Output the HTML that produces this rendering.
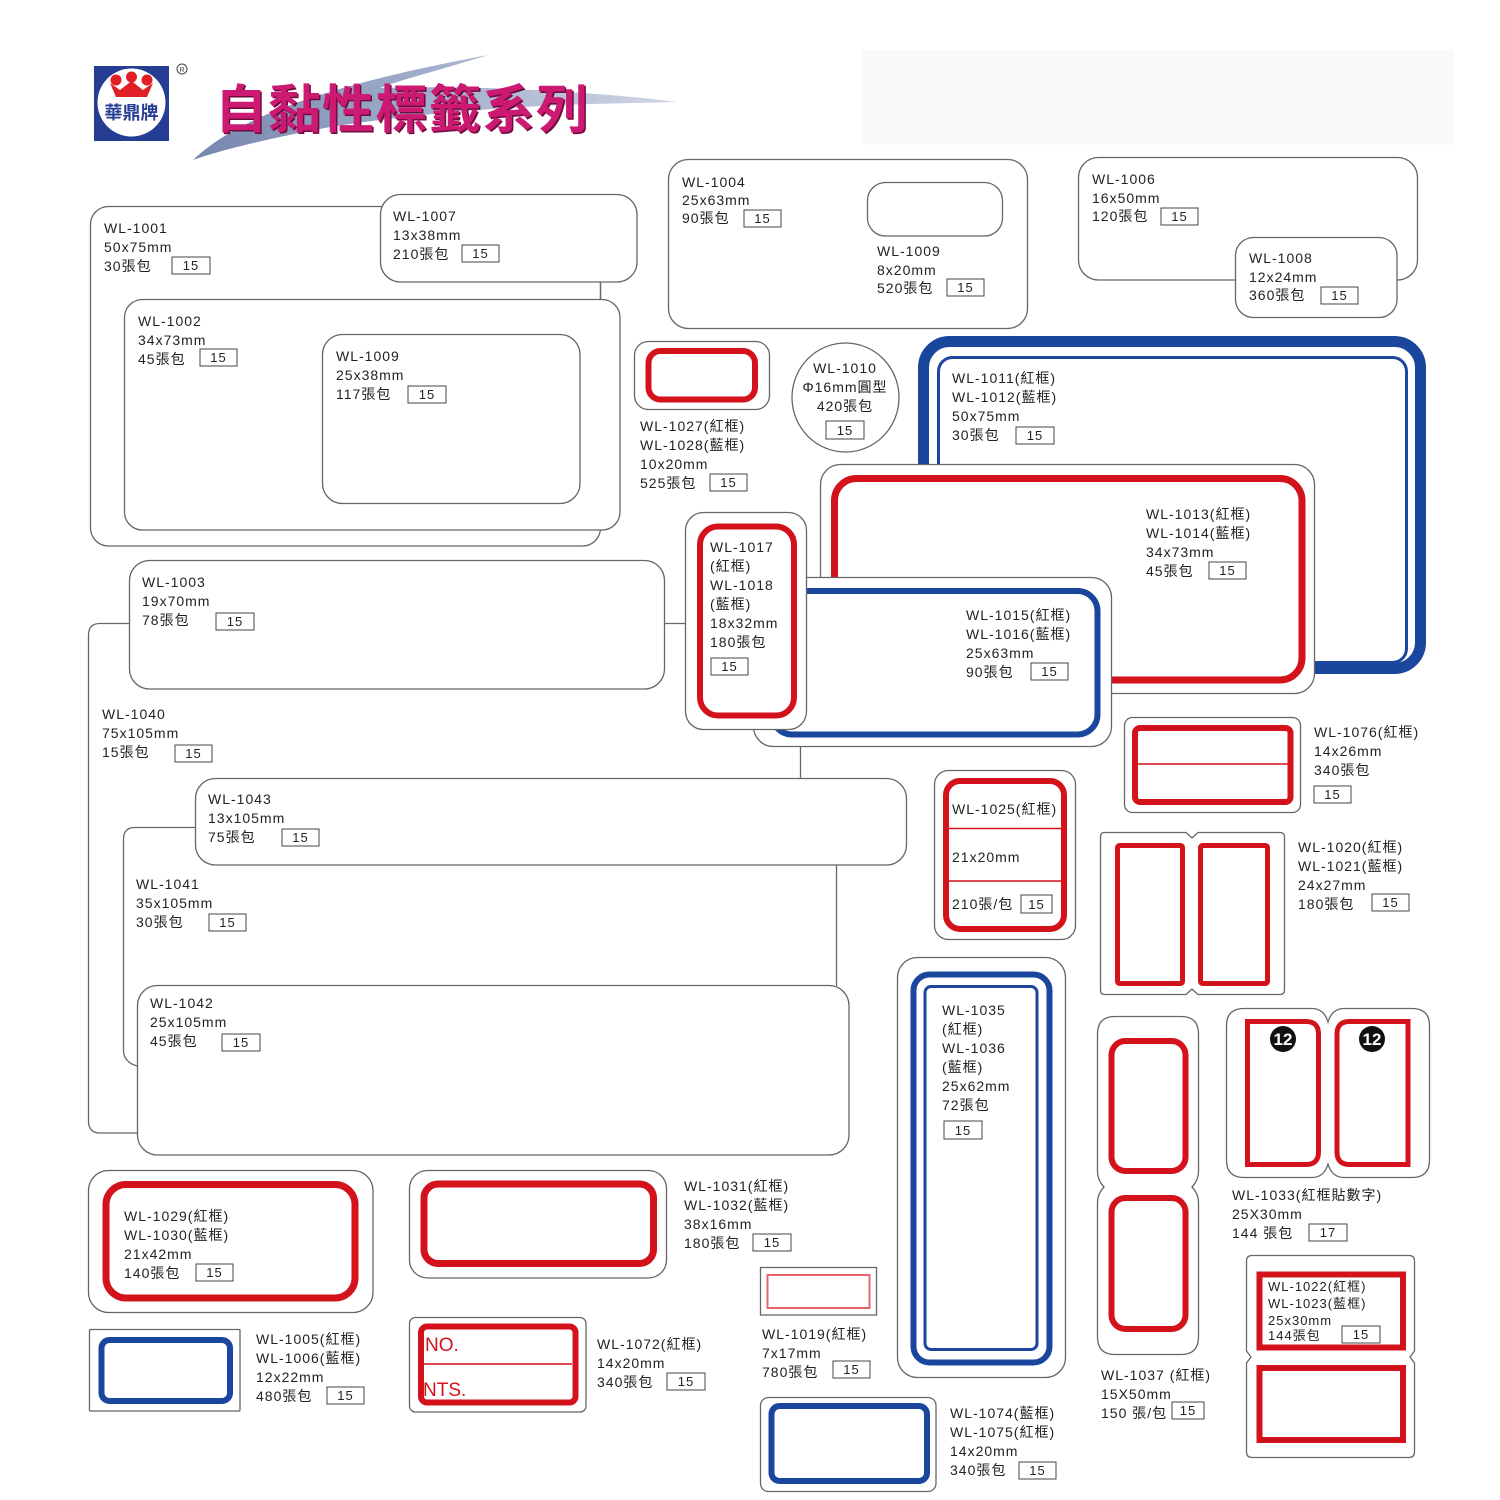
<!DOCTYPE html>
<html>
<head>
<meta charset="utf-8">
<style>
  html,body{margin:0;padding:0;background:#fff;}
  svg{display:block;}
  .g{fill:#fff;stroke:#666;stroke-width:1.3;}
  .gl{fill:none;stroke:#666;stroke-width:1.3;}
  .r{fill:none;stroke:#d3121c;}
  .b{fill:none;stroke:#1b469e;}
  .t{font-family:"Liberation Sans","Noto Sans CJK TC",sans-serif;font-size:14px;fill:#222;letter-spacing:1px;}
  .bx{fill:#fff;stroke:#444;stroke-width:1;}
  .n{font-family:"Liberation Sans",sans-serif;font-size:13px;fill:#222;text-anchor:middle;letter-spacing:1px;}
</style>
</head>
<body>
<svg width="1500" height="1500" viewBox="0 0 1500 1500" xmlns="http://www.w3.org/2000/svg">
  <defs>
    <linearGradient id="sw" x1="0" y1="0" x2="1" y2="0">
      <stop offset="0" stop-color="#7686ad"/>
      <stop offset="0.5" stop-color="#a2afcc"/>
      <stop offset="1" stop-color="#d0d6e6"/>
    </linearGradient>
  </defs>
  <rect width="1500" height="1500" fill="#fff"/>

  <!-- faint top right panel -->
  <rect x="862" y="50" width="592" height="95" fill="#f9fafc"/>

  <!-- swoosh -->
  <path d="M193,160 C230,125 300,90 488,55 C440,70 400,80 380,88 C480,85 600,92 677,102 C600,104 480,104 330,127 C260,140 215,152 193,160 Z" fill="url(#sw)"/>

  <!-- logo -->
  <rect x="94" y="66" width="75" height="75" fill="#263d94"/>
  <circle cx="131.5" cy="102.5" r="34" fill="#fff"/>
  <circle cx="116" cy="80" r="5.5" fill="#e01f26"/>
  <circle cx="131.5" cy="77" r="5.5" fill="#e01f26"/>
  <circle cx="147" cy="80" r="5.5" fill="#e01f26"/>
  <path d="M110,83 L116,97 L147,97 L153,83 L143,90 L131.5,81 L120,90 Z" fill="#e01f26"/>
  <text x="131.5" y="119" text-anchor="middle" font-family="'Noto Sans CJK TC',sans-serif" font-weight="700" font-size="18" fill="#263d94">華鼎牌</text>
  <circle cx="182" cy="69" r="5" fill="none" stroke="#444" stroke-width="1"/>
  <text x="182" y="72" text-anchor="middle" font-family="'Liberation Sans',sans-serif" font-size="7" fill="#444">R</text>

  <!-- title -->
  <text x="216.5" y="129.5" font-family="'Noto Sans CJK TC',sans-serif" font-weight="700" font-size="52" letter-spacing="1.5" fill="#6e0c3d">自黏性標籤系列</text>
  <text x="215" y="128" font-family="'Noto Sans CJK TC',sans-serif" font-weight="700" font-size="52" letter-spacing="1.5" fill="#cc1a72">自黏性標籤系列</text>

  <!-- ===== WL-1001 group ===== -->
  <rect class="g" x="90.5" y="206.5" width="510" height="339.5" rx="18"/>
  <rect class="g" x="380.5" y="194.5" width="256.5" height="87.5" rx="20"/>
  <line class="gl" x1="600.5" y1="282" x2="600.5" y2="300"/>
  <rect class="g" x="124.5" y="299.5" width="495.5" height="230.5" rx="18"/>
  <rect class="g" x="322.5" y="334.5" width="257.5" height="169" rx="20"/>

  <text class="t" x="104" y="233">WL-1001<tspan x="104" dy="19">50x75mm</tspan><tspan x="104" dy="19">30張包</tspan></text>
  <rect class="bx" x="172" y="257" width="38" height="17"/><text class="n" x="191" y="270">15</text>

  <text class="t" x="393" y="221">WL-1007<tspan x="393" dy="19">13x38mm</tspan><tspan x="393" dy="19">210張包</tspan></text>
  <rect class="bx" x="462" y="245" width="37" height="17"/><text class="n" x="480.5" y="258">15</text>

  <text class="t" x="138" y="326">WL-1002<tspan x="138" dy="19">34x73mm</tspan><tspan x="138" dy="19">45張包</tspan></text>
  <rect class="bx" x="200" y="349" width="37" height="17"/><text class="n" x="218.5" y="362">15</text>

  <text class="t" x="336" y="361">WL-1009<tspan x="336" dy="19">25x38mm</tspan><tspan x="336" dy="19">117張包</tspan></text>
  <rect class="bx" x="408" y="386" width="38" height="17"/><text class="n" x="427" y="399">15</text>

  <!-- ===== WL-1004 ===== -->
  <rect class="g" x="668.5" y="159.5" width="359" height="169" rx="20"/>
  <rect class="g" x="867.5" y="182.5" width="135" height="53.5" rx="18"/>
  <text class="t" x="682" y="187">WL-1004<tspan x="682" dy="18">25x63mm</tspan><tspan x="682" dy="18">90張包</tspan></text>
  <rect class="bx" x="744" y="210" width="37" height="17"/><text class="n" x="762.5" y="223">15</text>
  <text class="t" x="877" y="256">WL-1009<tspan x="877" dy="19">8x20mm</tspan><tspan x="877" dy="18">520張包</tspan></text>
  <rect class="bx" x="947" y="279" width="37" height="17"/><text class="n" x="965.5" y="292">15</text>

  <!-- ===== WL-1006 / 1008 ===== -->
  <rect class="g" x="1078.5" y="157.5" width="339" height="122.5" rx="20"/>
  <rect class="g" x="1235.5" y="237.5" width="161.5" height="80" rx="18"/>
  <text class="t" x="1092" y="184">WL-1006<tspan x="1092" dy="19">16x50mm</tspan><tspan x="1092" dy="18">120張包</tspan></text>
  <rect class="bx" x="1161" y="208" width="37" height="17"/><text class="n" x="1179.5" y="221">15</text>
  <text class="t" x="1249" y="263">WL-1008<tspan x="1249" dy="19">12x24mm</tspan><tspan x="1249" dy="18">360張包</tspan></text>
  <rect class="bx" x="1321" y="287" width="37" height="17"/><text class="n" x="1339.5" y="300">15</text>

  <!-- ===== WL-1027 ===== -->
  <rect class="g" x="634.5" y="341.5" width="135" height="68" rx="14"/>
  <rect class="r" x="648.5" y="351" width="106.5" height="48.5" rx="12" stroke-width="6"/>
  <text class="t" x="640" y="431">WL-1027(紅框)<tspan x="640" dy="19">WL-1028(藍框)</tspan><tspan x="640" dy="19">10x20mm</tspan><tspan x="640" dy="19">525張包</tspan></text>
  <rect class="bx" x="710" y="474" width="37" height="17"/><text class="n" x="728.5" y="487">15</text>

  <!-- ===== circle WL-1010 ===== -->
  <ellipse class="g" cx="845.5" cy="397.5" rx="53.5" ry="54.5"/>
  <text class="t" x="845" y="373" text-anchor="middle">WL-1010<tspan x="845" dy="19">Φ16mm圓型</tspan><tspan x="845" dy="19">420張包</tspan></text>
  <rect class="bx" x="826" y="421" width="38" height="18"/><text class="n" x="845" y="435">15</text>

  <!-- ===== Blue WL-1011 ===== -->
  <rect x="923.5" y="341.5" width="497" height="327" rx="26" fill="#fff" stroke="#1b469e" stroke-width="11"/>
  <rect class="b" x="938.5" y="357.5" width="468" height="305" rx="14" stroke-width="3"/>
  <text class="t" x="952" y="383">WL-1011(紅框)<tspan x="952" dy="19">WL-1012(藍框)</tspan><tspan x="952" dy="19">50x75mm</tspan><tspan x="952" dy="19">30張包</tspan></text>
  <rect class="bx" x="1016" y="427" width="38" height="17"/><text class="n" x="1035" y="440">15</text>

  <!-- ===== Red WL-1013 ===== -->
  <rect class="g" x="820.5" y="464.5" width="494" height="229" rx="20"/>
  <rect class="r" x="834.5" y="478.5" width="467.5" height="201.5" rx="22" stroke-width="7"/>
  <text class="t" x="1146" y="519">WL-1013(紅框)<tspan x="1146" dy="19">WL-1014(藍框)</tspan><tspan x="1146" dy="19">34x73mm</tspan><tspan x="1146" dy="19">45張包</tspan></text>
  <rect class="bx" x="1209" y="562" width="37" height="17"/><text class="n" x="1227.5" y="575">15</text>

  <!-- ===== Blue WL-1015 ===== -->
  <rect class="g" x="753.5" y="577.5" width="358" height="169" rx="20"/>
  <rect class="b" x="772" y="591" width="325.5" height="143.5" rx="20" stroke-width="6"/>
  <text class="t" x="966" y="620">WL-1015(紅框)<tspan x="966" dy="19">WL-1016(藍框)</tspan><tspan x="966" dy="19">25x63mm</tspan><tspan x="966" dy="19">90張包</tspan></text>
  <rect class="bx" x="1031" y="663" width="37" height="17"/><text class="n" x="1049.5" y="676">15</text>

  <!-- ===== Red WL-1017 ===== -->
  <rect class="g" x="685.5" y="512.5" width="121" height="217" rx="18"/>
  <rect class="r" x="700" y="526.5" width="94" height="189" rx="18" stroke-width="6"/>
  <text class="t" x="710" y="552">WL-1017<tspan x="710" dy="19">(紅框)</tspan><tspan x="710" dy="19">WL-1018</tspan><tspan x="710" dy="19">(藍框)</tspan><tspan x="710" dy="19">18x32mm</tspan><tspan x="710" dy="19">180張包</tspan></text>
  <rect class="bx" x="711" y="658" width="37" height="17"/><text class="n" x="729.5" y="671">15</text>

  <!-- ===== WL-1040 / 1003 / 1043 / 1041 / 1042 ===== -->
  <path class="gl" d="M129.5,623.5 L100,623.5 Q88.5,623.5 88.5,635 L88.5,1121 Q88.5,1133 100,1133 L137,1133"/>
  <rect class="g" x="129.5" y="560.5" width="535" height="128.5" rx="20"/>
  <line class="gl" x1="665" y1="623.5" x2="686" y2="623.5"/>
  <line class="gl" x1="800.5" y1="747" x2="800.5" y2="778"/>
  <path class="gl" d="M195.5,827.5 L135,827.5 Q123.5,827.5 123.5,839 L123.5,1050 Q123.5,1062 137,1066"/>
  <line class="gl" x1="836.5" y1="865" x2="836.5" y2="986"/>
  <rect class="g" x="195.5" y="778.5" width="711" height="86.5" rx="20"/>
  <rect class="g" x="137.5" y="985.5" width="711.5" height="169.5" rx="20"/>

  <text class="t" x="142" y="587">WL-1003<tspan x="142" dy="19">19x70mm</tspan><tspan x="142" dy="19">78張包</tspan></text>
  <rect class="bx" x="216" y="613" width="38" height="17"/><text class="n" x="235" y="626">15</text>

  <text class="t" x="102" y="719">WL-1040<tspan x="102" dy="19">75x105mm</tspan><tspan x="102" dy="19">15張包</tspan></text>
  <rect class="bx" x="175" y="745" width="37" height="17"/><text class="n" x="193.5" y="758">15</text>

  <text class="t" x="208" y="804">WL-1043<tspan x="208" dy="19">13x105mm</tspan><tspan x="208" dy="19">75張包</tspan></text>
  <rect class="bx" x="282" y="829" width="37" height="17"/><text class="n" x="300.5" y="842">15</text>

  <text class="t" x="136" y="889">WL-1041<tspan x="136" dy="19">35x105mm</tspan><tspan x="136" dy="19">30張包</tspan></text>
  <rect class="bx" x="209" y="914" width="37" height="17"/><text class="n" x="227.5" y="927">15</text>

  <text class="t" x="150" y="1008">WL-1042<tspan x="150" dy="19">25x105mm</tspan><tspan x="150" dy="19">45張包</tspan></text>
  <rect class="bx" x="222" y="1034" width="38" height="17"/><text class="n" x="241" y="1047">15</text>

  <!-- ===== WL-1076 ===== -->
  <rect class="g" x="1124.5" y="717.5" width="176" height="95" rx="8"/>
  <rect class="r" x="1135" y="728" width="155.5" height="74" rx="5" stroke-width="6"/>
  <line x1="1138" y1="764" x2="1288" y2="764" stroke="#d3121c" stroke-width="1.5"/>
  <text class="t" x="1314" y="737">WL-1076(紅框)<tspan x="1314" dy="19">14x26mm</tspan><tspan x="1314" dy="19">340張包</tspan></text>
  <rect class="bx" x="1314" y="786" width="37" height="17"/><text class="n" x="1332.5" y="799">15</text>

  <!-- ===== WL-1025 ===== -->
  <rect class="g" x="934.5" y="770.5" width="141" height="169" rx="14"/>
  <rect class="r" x="946" y="781" width="118" height="148" rx="14" stroke-width="6"/>
  <line x1="949" y1="828.5" x2="1061" y2="828.5" stroke="#d3121c" stroke-width="1.5"/>
  <line x1="949" y1="881" x2="1061" y2="881" stroke="#d3121c" stroke-width="1.5"/>
  <text class="t" x="952" y="814">WL-1025(紅框)</text>
  <text class="t" x="952" y="862">21x20mm</text>
  <text class="t" x="952" y="909">210張/包</text>
  <rect class="bx" x="1021" y="895" width="31" height="18"/><text class="n" x="1036.5" y="909">15</text>

  <!-- ===== WL-1020/1021 ===== -->
  <path class="g" d="M1104,832.5 L1186,832.5 L1192,838 L1198,832.5 L1280,832.5 Q1284.5,832.5 1284.5,837 L1284.5,990 Q1284.5,994.5 1280,994.5 L1198,994.5 L1192,989 L1186,994.5 L1104,994.5 Q1100.5,994.5 1100.5,990 L1100.5,837 Q1100.5,832.5 1104,832.5 Z"/>
  <rect class="r" x="1117.5" y="845.5" width="65" height="138" rx="2" stroke-width="5"/>
  <rect class="r" x="1200.5" y="845.5" width="67" height="138" rx="2" stroke-width="5"/>
  <text class="t" x="1298" y="852">WL-1020(紅框)<tspan x="1298" dy="19">WL-1021(藍框)</tspan><tspan x="1298" dy="19">24x27mm</tspan><tspan x="1298" dy="19">180張包</tspan></text>
  <rect class="bx" x="1372" y="894" width="37" height="17"/><text class="n" x="1390.5" y="907">15</text>

  <!-- ===== WL-1035 ===== -->
  <rect class="g" x="897.5" y="957.5" width="168" height="420" rx="20"/>
  <rect class="b" x="913.5" y="974.5" width="136" height="388" rx="16" stroke-width="6"/>
  <rect class="b" x="925" y="986.5" width="112" height="363" rx="6" stroke-width="3"/>
  <text class="t" x="942" y="1015">WL-1035<tspan x="942" dy="19">(紅框)</tspan><tspan x="942" dy="19">WL-1036</tspan><tspan x="942" dy="19">(藍框)</tspan><tspan x="942" dy="19">25x62mm</tspan><tspan x="942" dy="19">72張包</tspan></text>
  <rect class="bx" x="944" y="1121" width="38" height="18"/><text class="n" x="963" y="1135">15</text>

  <!-- ===== WL-1037 ===== -->
  <path class="g" d="M1115,1016.5 L1181,1016.5 Q1198.5,1016.5 1198.5,1034 L1198.5,1172 Q1198.5,1180 1192,1187 Q1198.5,1194 1198.5,1202 L1198.5,1337 Q1198.5,1354.5 1181,1354.5 L1115,1354.5 Q1097.5,1354.5 1097.5,1337 L1097.5,1202 Q1097.5,1194 1104,1187 Q1097.5,1180 1097.5,1172 L1097.5,1034 Q1097.5,1016.5 1115,1016.5 Z"/>
  <rect class="r" x="1111.5" y="1041" width="74" height="130" rx="14" stroke-width="6"/>
  <rect class="r" x="1111.5" y="1198" width="74" height="131" rx="14" stroke-width="6"/>
  <text class="t" x="1101" y="1380">WL-1037 (紅框)<tspan x="1101" dy="19">15X50mm</tspan><tspan x="1101" dy="19">150 張/包</tspan></text>
  <rect class="bx" x="1172" y="1402" width="32" height="17"/><text class="n" x="1188" y="1415">15</text>

  <!-- ===== WL-1033 ===== -->
  <path class="g" d="M1244,1008.5 L1312,1008.5 Q1324,1008.5 1328,1022 Q1332,1008.5 1344,1008.5 L1412,1008.5 Q1429.5,1008.5 1429.5,1026 L1429.5,1160 Q1429.5,1177.5 1412,1177.5 L1344,1177.5 Q1332,1177.5 1328,1164 Q1324,1177.5 1312,1177.5 L1244,1177.5 Q1226.5,1177.5 1226.5,1160 L1226.5,1026 Q1226.5,1008.5 1244,1008.5 Z"/>
  <path class="r" stroke-width="5" d="M1247.5,1021.5 L1306,1021.5 Q1318.5,1021.5 1318.5,1034 L1318.5,1152 Q1318.5,1164.5 1306,1164.5 L1247.5,1164.5 Z"/>
  <path class="r" stroke-width="5" d="M1408,1021.5 L1349.5,1021.5 Q1337,1021.5 1337,1034 L1337,1152 Q1337,1164.5 1349.5,1164.5 L1408,1164.5 Z"/>
  <circle cx="1283" cy="1039" r="13" fill="#111"/>
  <text x="1283" y="1045" text-anchor="middle" font-family="'Liberation Sans',sans-serif" font-weight="700" font-size="17" fill="#fff">12</text>
  <circle cx="1372" cy="1039" r="13" fill="#111"/>
  <text x="1372" y="1045" text-anchor="middle" font-family="'Liberation Sans',sans-serif" font-weight="700" font-size="17" fill="#fff">12</text>
  <text class="t" x="1232" y="1200">WL-1033(紅框貼數字)<tspan x="1232" dy="19">25X30mm</tspan><tspan x="1232" dy="19">144 張包</tspan></text>
  <rect class="bx" x="1309" y="1224" width="38" height="17"/><text class="n" x="1328" y="1237">17</text>

  <!-- ===== WL-1022 ===== -->
  <path class="g" d="M1252,1255.5 L1409,1255.5 Q1414.5,1255.5 1414.5,1261 L1414.5,1351 L1410,1357 L1414.5,1363 L1414.5,1452 Q1414.5,1457.5 1409,1457.5 L1252,1457.5 Q1246.5,1457.5 1246.5,1452 L1246.5,1363 L1251,1357 L1246.5,1351 L1246.5,1261 Q1246.5,1255.5 1252,1255.5 Z"/>
  <rect class="r" x="1259.5" y="1274.5" width="143.5" height="73" stroke-width="6"/>
  <rect class="r" x="1259.5" y="1368" width="143.5" height="72" stroke-width="6"/>
  <text class="t" x="1268" y="1291" style="font-size:13px">WL-1022(紅框)<tspan x="1268" dy="17">WL-1023(藍框)</tspan><tspan x="1268" dy="17">25x30mm</tspan><tspan x="1268" dy="15">144張包</tspan></text>
  <rect class="bx" x="1342" y="1326" width="38" height="17"/><text class="n" x="1361" y="1339">15</text>

  <!-- ===== WL-1029 ===== -->
  <rect class="g" x="88.5" y="1170.5" width="284.5" height="142" rx="20"/>
  <rect class="r" x="106" y="1184.5" width="249" height="113.5" rx="20" stroke-width="7"/>
  <text class="t" x="124" y="1221">WL-1029(紅框)<tspan x="124" dy="19">WL-1030(藍框)</tspan><tspan x="124" dy="19">21x42mm</tspan><tspan x="124" dy="19">140張包</tspan></text>
  <rect class="bx" x="196" y="1264" width="37" height="17"/><text class="n" x="214.5" y="1277">15</text>

  <!-- ===== WL-1031 ===== -->
  <rect class="g" x="409.5" y="1170.5" width="257" height="107.5" rx="18"/>
  <rect class="r" x="424" y="1184" width="229.5" height="79.5" rx="14" stroke-width="7"/>
  <text class="t" x="684" y="1191">WL-1031(紅框)<tspan x="684" dy="19">WL-1032(藍框)</tspan><tspan x="684" dy="19">38x16mm</tspan><tspan x="684" dy="19">180張包</tspan></text>
  <rect class="bx" x="753" y="1234" width="38" height="17"/><text class="n" x="772" y="1247">15</text>

  <!-- ===== WL-1005 ===== -->
  <rect class="g" x="89.5" y="1329.5" width="150.5" height="81.5" rx="1"/>
  <rect class="b" x="101.5" y="1340" width="128.5" height="61" rx="8" stroke-width="6"/>
  <text class="t" x="256" y="1344">WL-1005(紅框)<tspan x="256" dy="19">WL-1006(藍框)</tspan><tspan x="256" dy="19">12x22mm</tspan><tspan x="256" dy="19">480張包</tspan></text>
  <rect class="bx" x="327" y="1387" width="37" height="17"/><text class="n" x="345.5" y="1400">15</text>

  <!-- ===== WL-1072 ===== -->
  <rect class="g" x="409.5" y="1317.5" width="176.5" height="94.5" rx="6"/>
  <rect class="r" x="421" y="1326.5" width="154.5" height="76" rx="6" stroke-width="6"/>
  <line x1="424" y1="1364" x2="572" y2="1364" stroke="#d3121c" stroke-width="1.5"/>
  <text x="425" y="1351" font-family="'Liberation Sans',sans-serif" font-size="19" fill="#d3121c">NO.</text>
  <text x="423" y="1396" font-family="'Liberation Sans',sans-serif" font-size="19" fill="#d3121c">NTS.</text>
  <text class="t" x="597" y="1349">WL-1072(紅框)<tspan x="597" dy="19">14x20mm</tspan><tspan x="597" dy="19">340張包</tspan></text>
  <rect class="bx" x="667" y="1373" width="38" height="17"/><text class="n" x="686" y="1386">15</text>

  <!-- ===== WL-1019 ===== -->
  <rect class="g" x="760.5" y="1267.5" width="116" height="47.5"/>
  <rect x="767.5" y="1275" width="102" height="33" fill="none" stroke="#e8646c" stroke-width="2"/>
  <text class="t" x="762" y="1339">WL-1019(紅框)<tspan x="762" dy="19">7x17mm</tspan><tspan x="762" dy="19">780張包</tspan></text>
  <rect class="bx" x="833" y="1361" width="37" height="17"/><text class="n" x="851.5" y="1374">15</text>

  <!-- ===== WL-1074 ===== -->
  <rect class="g" x="760.5" y="1397.5" width="175.5" height="94" rx="8"/>
  <rect class="b" x="771.5" y="1406" width="155.5" height="75" rx="8" stroke-width="6"/>
  <text class="t" x="950" y="1418">WL-1074(藍框)<tspan x="950" dy="19">WL-1075(紅框)</tspan><tspan x="950" dy="19">14x20mm</tspan><tspan x="950" dy="19">340張包</tspan></text>
  <rect class="bx" x="1019" y="1462" width="37" height="17"/><text class="n" x="1037.5" y="1475">15</text>
</svg>
</body>
</html>
